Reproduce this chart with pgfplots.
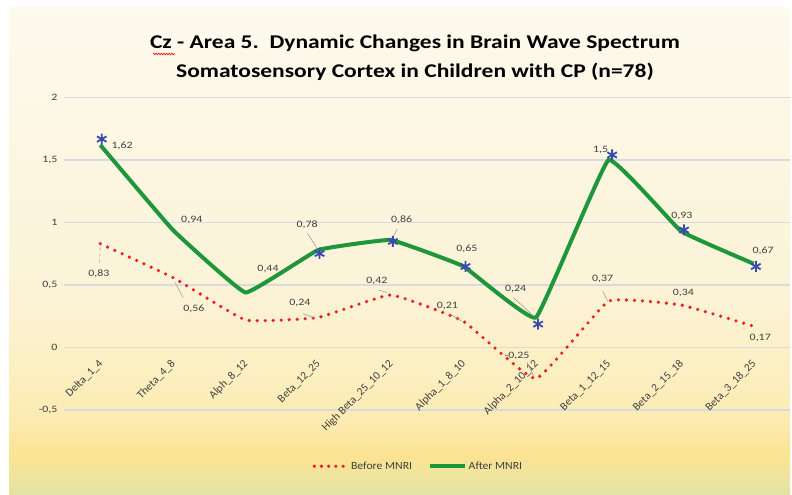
\documentclass[border=0pt]{standalone}
\usepackage{fontspec}
\setmainfont{Carlito}
\usepackage{pgfplots}
\pgfplotsset{compat=1.18}
\usetikzlibrary{decorations.pathmorphing}

\definecolor{gline}{RGB}{30,150,60}
\definecolor{rdot}{RGB}{240,30,30}
\definecolor{astb}{RGB}{58,75,176}
\definecolor{gridc}{RGB}{217,218,224}
\definecolor{txt}{RGB}{64,64,64}
\definecolor{bgA}{RGB}{226,227,162}
\definecolor{bgB}{RGB}{238,228,160}
\definecolor{bgC}{RGB}{251,227,146}
\definecolor{bgD}{RGB}{252,236,178}
\definecolor{bgE}{RGB}{252,243,214}
\definecolor{bgF}{RGB}{253,250,238}
\pgfdeclareverticalshading{bgshade}{100bp}{color(0bp)=(bgA); color(25bp)=(bgA); color(26.75bp)=(bgB); color(29.1bp)=(bgC); color(32.7bp)=(bgD); color(45bp)=(bgE); color(75bp)=(bgF); color(100bp)=(bgF)}
\newcommand\sx[1]{\scalebox{1.22}[1]{#1}}

\begin{document}
\begin{tikzpicture}[x=1bp,y=1bp,
  lab/.style={font=\fontsize{9.8}{12}\selectfont, text=txt},
  lead/.style={draw=gray!75, line width=0.6bp}]
\useasboundingbox (0,0) rectangle (792,495);
\fill[white] (0,0) rectangle (792,495);
\shade[shading=bgshade] (9,0) rectangle (790,487);
\node[font=\fontsize{19.5}{23}\selectfont\bfseries, text=black, anchor=base] at (415,446) {\scalebox{1.21}[1]{Cz - Area 5.\ \ Dynamic Changes in Brain Wave Spectrum}};
\node[font=\fontsize{19.5}{23}\selectfont\bfseries, text=black, anchor=base] at (415,417) {\scalebox{1.21}[1]{Somatosensory Cortex in Children with CP (n=78)}};
\draw[red, line width=0.6bp, decorate, decoration={zigzag, amplitude=0.9bp, segment length=2.6bp}] (153,441) -- (175,441);
\begin{axis}[
  at={(64bp,85bp)}, anchor=south west,
  width=726bp, height=312.5bp, scale only axis,
  xmin=-0.5, xmax=9.5, ymin=-0.5, ymax=2,
  axis line style={draw=none}, tick style={draw=none},
  ytick={-0.5,0,0.5,1,1.5,2},
  yticklabels={\sx{-0,5},\sx{0},\sx{0,5},\sx{1},\sx{1,5},\sx{2}},
  ymajorgrids, grid style={gridc, line width=1.3bp},
  xtick={0,...,9},
  xticklabels={Delta\_1\_4, Theta\_4\_8, Alph\_8\_12, Beta\_12\_25, High Beta\_25\_10\_12, Alpha\_1\_8\_10, Alpha\_2\_10\_12, Beta\_1\_12\_15, Beta\_2\_15\_18, Beta\_3\_18\_25},
  xticklabel style={yshift=50bp, xshift=3bp, rotate=45, anchor=east, font=\fontsize{11.3}{13}\selectfont, text=txt},
  yticklabel style={font=\fontsize{9.8}{12}\selectfont, text=txt, xshift=-3bp},
  clip=false,
  legend columns=2,
  legend style={at={(0.488,-0.18)}, anchor=center, draw=none, fill=none, font=\fontsize{11}{13}\selectfont, text=txt, /tikz/every even column/.append style={column sep=13.7bp}},
  legend cell align=left,
]
\addplot[rdot, line width=3.6bp, line cap=round, dash pattern=on 0bp off 8bp, smooth, tension=0.2,
  legend image code/.code={\draw[rdot, line width=3.6bp, line cap=round, dash pattern=on 0bp off 7.2bp] (0bp,0bp) -- (29bp,0bp); \path (33bp,0bp);}]
  coordinates {(0,0.83) (1,0.56) (2,0.22) (3,0.24) (4,0.42) (5,0.21) (6,-0.25) (7,0.37) (8,0.34) (9,0.17)};
\addlegendentry{\scalebox{1.07}[1]{Before MNRI}}
\addplot[gline, line width=4bp, smooth, tension=0.15,
  legend image code/.code={\draw[gline, line width=4bp] (0bp,0bp) -- (35bp,0bp);}]
  coordinates {(0,1.62) (1,0.94) (2,0.44) (3,0.78) (4,0.86) (5,0.65) (6,0.24) (7,1.5) (8,0.93) (9,0.67)};
\addlegendentry{\scalebox{1.07}[1]{After MNRI}}
\addplot[only marks, mark=asterisk, mark size=5.5bp, astb, mark options={line width=1.8bp}, forget plot]
  coordinates {(0.02,1.667) (3.02,0.752) (4.03,0.848) (5.03,0.648) (6.03,0.187) (7.05,1.54) (8.04,0.94) (9.03,0.648)};
% leader lines
\draw[lead, dashed] (axis cs:-0.01,0.68) -- (axis cs:0,0.80);
\draw[lead] (axis cs:1.14,0.40) -- (axis cs:1.03,0.52);
\draw[lead] (axis cs:2.85,0.915) -- (axis cs:2.98,0.80);
\draw[lead] (axis cs:4.09,0.95) -- (axis cs:4.03,0.88);
\draw[lead] (axis cs:2.79,0.27) -- (axis cs:2.96,0.235);
\draw[lead] (axis cs:3.83,0.46) -- (axis cs:3.95,0.44);
\draw[lead] (axis cs:4.81,0.27) -- (axis cs:4.98,0.21);
\draw[lead] (axis cs:5.69,0.40) -- (axis cs:5.97,0.25);
\draw[lead] (axis cs:6.92,0.45) -- (axis cs:6.99,0.37);
\draw[lead] (axis cs:5.88,-0.12) -- (axis cs:5.97,-0.23);
% data labels after
\node[lab] at (axis cs:0.30,1.61) {\sx{1,62}};
\node[lab] at (axis cs:1.26,1.02) {\sx{0,94}};
\node[lab] at (axis cs:2.31,0.63) {\sx{0,44}};
\node[lab] at (axis cs:2.85,0.98) {\sx{0,78}};
\node[lab] at (axis cs:4.15,1.02) {\sx{0,86}};
\node[lab] at (axis cs:5.05,0.79) {\sx{0,65}};
\node[lab] at (axis cs:5.72,0.47) {\sx{0,24}};
\node[lab] at (axis cs:6.89,1.58) {\sx{1,5}};
\node[lab] at (axis cs:8.01,1.05) {\sx{0,93}};
\node[lab] at (axis cs:9.13,0.77) {\sx{0,67}};
% data labels before
\node[lab] at (axis cs:-0.02,0.59) {\sx{0,83}};
\node[lab] at (axis cs:1.29,0.31) {\sx{0,56}};
\node[lab] at (axis cs:2.75,0.36) {\sx{0,24}};
\node[lab] at (axis cs:3.81,0.53) {\sx{0,42}};
\node[lab] at (axis cs:4.78,0.33) {\sx{0,21}};
\node[lab] at (axis cs:5.74,-0.07) {\sx{-0,25}};
\node[lab] at (axis cs:6.92,0.55) {\sx{0,37}};
\node[lab] at (axis cs:8.03,0.44) {\sx{0,34}};
\node[lab] at (axis cs:9.09,0.08) {\sx{0,17}};
\end{axis}
\end{tikzpicture}
\end{document}
